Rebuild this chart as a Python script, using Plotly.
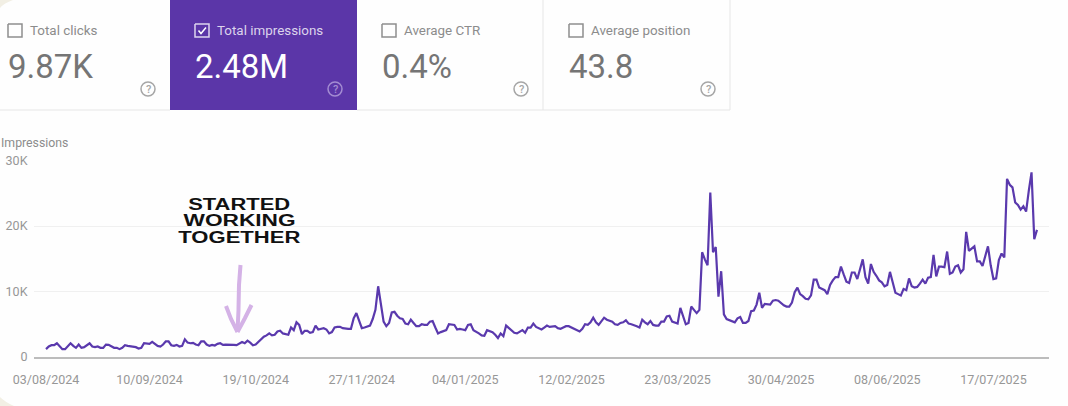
import pandas as pd
import plotly.graph_objects as go

W, H = 1068, 406

# daily impressions in thousands
aug_sep = [1.2, 1.6, 1.8, 1.8, 2.1, 1.6, 1.2, 1.2, 1.7, 2.1, 1.7, 1.4, 1.9, 1.4, 1.5, 1.8, 2.1, 1.6, 1.5, 1.6,
           1.4, 1.4, 1.9, 1.85, 1.6, 1.4, 1.4, 1.2, 1.4, 1.8, 1.7, 1.65, 1.6, 1.5, 1.3, 1.4, 2.1, 2.05, 2.0, 2.3,
           2.0, 1.7, 1.6, 1.9, 2.4, 2.4, 1.8, 1.7, 1.85, 1.6, 1.7, 2.7, 2.2, 2.1, 2.15, 1.9, 1.8, 2.4, 2.4, 1.9]
oct_nov = [1.7, 1.85, 1.75, 2.0, 2.1, 1.85, 1.9, 1.9, 1.95, 1.85, 1.8, 2.0, 2.3, 2.1, 2.5, 2.2, 1.8, 1.9, 2.3, 2.7,
           3.1, 3.3, 3.6, 3.3, 3.4, 3.9, 4.0, 3.6, 3.5, 3.4, 4.5, 4.1, 5.3, 4.9, 3.5, 4.0, 4.0, 3.7, 3.8, 4.8,
           4.2, 4.3, 4.4, 4.2, 3.6, 3.8, 4.5, 4.6, 4.6, 4.4, 4.3, 4.3, 4.3, 5.9, 6.7, 5.4, 4.4, 4.5, 4.7, 4.8]
dec_jan = [5.8, 7.2, 10.8, 8.2, 5.4, 4.7, 5.2, 6.8, 6.9, 6.3, 5.9, 5.8, 5.1, 5.0, 5.7, 5.2, 4.7, 4.7, 5.0, 4.9,
           4.9, 5.4, 5.5, 4.5, 3.6, 3.8, 3.9, 4.1, 5.0, 4.9, 4.9, 4.2, 4.3, 4.2, 4.1, 4.9, 5.0, 4.1, 3.9, 3.6,
           3.3, 3.25, 4.1, 4.0, 3.8, 3.4, 2.9, 3.6, 3.2, 4.8, 4.4, 4.0, 3.7, 3.6, 3.8, 4.1, 3.7, 4.5, 4.5, 5.1]
feb_mar = [4.6, 4.4, 4.2, 4.5, 4.8, 4.6, 4.6, 4.7, 4.4, 4.3, 4.5, 4.7, 4.7, 4.5, 4.3, 4.1, 3.9, 4.3, 5.0, 4.9,
           5.3, 6.0, 5.3, 4.9, 5.5, 6.0, 5.7, 5.5, 5.4, 5.0, 4.9, 5.2, 5.3, 5.6, 5.1, 5.0, 4.9, 4.7, 4.5, 5.7,
           5.3, 5.0, 5.5, 4.9, 4.8, 4.8, 5.4, 5.4, 6.2, 6.3, 5.4, 5.2, 5.1, 7.5, 6.1, 5.0, 5.2, 7.7, 7.2, 6.7]
apr_may = [7.2, 16.0, 14.9, 14.0, 25.1, 16.0, 16.8, 9.2, 13.1, 6.5, 5.8, 5.6, 5.4, 5.3, 5.9, 6.1, 5.2, 5.2, 5.5, 7.0,
           7.1, 8.0, 9.8, 7.5, 8.1, 8.0, 8.0, 8.6, 8.7, 8.6, 8.2, 7.9, 7.7, 7.7, 8.3, 9.9, 10.6, 9.6, 9.3, 8.9,
           8.8, 9.4, 11.8, 11.8, 10.6, 10.4, 10.2, 9.6, 11.0, 11.7, 12.2, 12.2, 13.8, 12.6, 11.5, 11.3, 12.9, 12.9, 11.9, 13.4]
jun_aug = [14.9, 12.2, 11.2, 14.2, 13.0, 12.4, 11.7, 11.4, 10.8, 11.0, 13.0, 11.4, 9.8, 9.6, 9.4, 10.4, 10.2, 12.0, 10.8, 10.6,
           10.7, 11.2, 11.8, 11.2, 12.1, 12.2, 15.6, 12.3, 13.8, 13.8, 13.7, 16.1, 12.7, 12.9, 13.8, 14.0, 12.9, 13.4, 19.1, 16.2,
           16.6, 16.9, 14.6, 14.6, 13.9, 15.4, 16.9, 14.0, 11.9, 12.0, 14.8, 15.8, 15.2, 27.2, 26.3, 25.9, 23.6, 23.2, 22.5, 23.0,
           22.2, 25.4, 28.2, 18.0, 19.4]
impressions = [v * 1000 for v in aug_sep + oct_nov + dec_jan + feb_mar + apr_may + jun_aug]
dates = pd.date_range('2024-08-03', periods=len(impressions))

x_ticks = ['2024-08-03', '2024-09-10', '2024-10-19', '2024-11-27', '2025-01-04', '2025-02-12',
           '2025-03-23', '2025-04-30', '2025-06-08', '2025-07-17']
x_labels = ['03/08/2024', '10/09/2024', '19/10/2024', '27/11/2024', '04/01/2025', '12/02/2025',
            '23/03/2025', '30/04/2025', '08/06/2025', '17/07/2025']
y_ticks = [0, 10000, 20000, 30000]
y_labels = ['0', '10K', '20K', '30K']

card_names = ['Total clicks', 'Total impressions', 'Average CTR', 'Average position']
card_values = ['9.87K', '2.48M', '0.4%', '43.8']
card_left = [8, 195, 382, 569]
card_help = [148, 335, 521, 708]
selected = 1

note_lines = ['STARTED', 'WORKING', 'TOGETHER']
note_widths = [102, 112, 122]
note_y = [204, 220.5, 237]

PURPLE = '#5b36a8'
LINE = '#5a39ad'
BEIGE = '#f2efe4'
LILAC = '#d4b2e6'
TICK_GREY = '#979797'


def px_x(x):
    return x / W


def px_y(y):
    return 1 - y / H


def path(points):
    parts = [f'{px_x(x):.5f},{px_y(y):.5f}' for x, y in points]
    return 'M' + ' L'.join(parts)


def add_path(fig, points, color, width):
    fig.add_shape(type='path', path=path(points), xref='paper', yref='paper',
                  line=dict(color=color, width=width))


def add_text(fig, x, y, text, size, color, anchor='left', **kw):
    fig.add_annotation(x=px_x(x), y=px_y(y), xref='paper', yref='paper', text=text, showarrow=False,
                       xanchor=anchor, yanchor='middle', borderpad=0,
                       font=dict(family=kw.pop('family', 'Roboto'), size=size, color=color, **kw))


fig = go.Figure()
fig.add_trace(go.Scatter(x=dates, y=impressions, mode='lines', line=dict(color=LINE, width=2.2), hoverinfo='skip'))

fig.update_layout(
    width=W, height=H, margin=dict(l=0, r=0, t=0, b=0), showlegend=False,
    paper_bgcolor='#fefefe', plot_bgcolor='rgba(0,0,0,0)',
    font=dict(family='Roboto', size=12, color=TICK_GREY),
)
fig.update_xaxes(domain=[34 / W, 1049 / W], range=['2024-07-29 14:00', '2025-08-06 10:00'], automargin=False,
                 tickvals=x_ticks, ticktext=x_labels, showgrid=False, showline=True, linecolor='#bcbcbc',
                 linewidth=1.5, ticks='outside', ticklen=10, tickcolor='rgba(0,0,0,0)',
                 tickfont=dict(size=12.5, color=TICK_GREY), zeroline=False)
fig.update_yaxes(domain=[1 - 357 / H, 1 - 160.5 / H], range=[0, 30000], automargin=False,
                 tickvals=y_ticks, ticktext=y_labels,
                 showgrid=True, gridcolor='#f0f0f0', gridwidth=1, showline=False, zeroline=False,
                 ticks='outside', ticklen=3, tickcolor='rgba(0,0,0,0)', tickfont=dict(size=12.5, color=TICK_GREY))

# beige corners of the rounded page card
fig.add_shape(type='path', xref='paper', yref='paper', fillcolor=BEIGE, line_width=0, layer='below',
              path=f'M0,1 L{px_x(13)},1 Q{px_x(4)},{px_y(3)} 0,{px_y(8)} Z')
fig.add_shape(type='path', xref='paper', yref='paper', fillcolor=BEIGE, line_width=0, layer='below',
              path=f'M0,0 L{px_x(14)},0 Q{px_x(5)},{px_y(402)} 0,{px_y(397)} Z')

# metric cards
fig.add_shape(type='rect', xref='paper', yref='paper', x0=px_x(170), x1=px_x(357), y0=px_y(110), y1=1,
              fillcolor=PURPLE, line_width=0, layer='below')
add_path(fig, [(0, 110), (170, 110)], '#e6e6e6', 1)
add_path(fig, [(357, 110), (730, 110)], '#e6e6e6', 1)
add_path(fig, [(543, 0), (543, 110)], '#e6e6e6', 1)
add_path(fig, [(730, 0), (730, 110)], '#e6e6e6', 1)

for i, name in enumerate(card_names):
    left = card_left[i]
    on = i == selected
    box_color = '#ddd5ee' if on else '#8e8e8e'
    add_path(fig, [(left, 24), (left + 14, 24), (left + 14, 37), (left, 37), (left, 24)], box_color, 1.5)
    if on:
        add_path(fig, [(left + 3.5, 30.5), (left + 6, 33.5), (left + 11, 27.5)], '#ffffff', 1.5)
    add_text(fig, left + 20.5, 30.5, name, 13.4, '#dcd4ec' if on else '#8c8c8c')
    add_text(fig, left - 1.5, 66, card_values[i], 33, '#ffffff' if on else '#757575')
    help_x = card_help[i]
    help_color = '#a38cd2' if on else '#a6a6a6'
    fig.add_shape(type='circle', xref='paper', yref='paper', x0=px_x(help_x - 7), x1=px_x(help_x + 7),
                  y0=px_y(96), y1=px_y(82), line=dict(color=help_color, width=1.5))
    add_text(fig, help_x, 89, '?', 11, help_color, anchor='center', weight=500)

add_text(fig, 0, 143, 'Impressions', 12.3, '#8c8c8c')

# hand drawn note and arrow
for line, y_pos in zip(note_lines, note_y):
    add_text(fig, 239, y_pos, line, 16, '#111111', anchor='center', family='Liberation Sans', weight=700)
add_path(fig, [(240.5, 265), (239, 285), (238.5, 310), (237.5, 332)], LILAC, 4)
add_path(fig, [(226, 306), (231, 319), (237.5, 332)], LILAC, 4)
add_path(fig, [(251.5, 305), (245, 318), (237.5, 332)], LILAC, 4)

# the note font is far wider than anything installed, so stretch the glyphs to the measured widths
widths = dict(zip(note_lines, note_widths))
post = "document.body.style.margin='0';document.documentElement.style.overflow='hidden';"
post += f"var w={widths!r};"
post += ("document.querySelectorAll('.annotation-text').forEach(function(t){"
         "if(w[t.textContent]){t.setAttribute('textLength',w[t.textContent]);"
         "t.setAttribute('lengthAdjust','spacingAndGlyphs');}});")

fig.write_html("out.html", post_script=post, config=dict(displayModeBar=False))
